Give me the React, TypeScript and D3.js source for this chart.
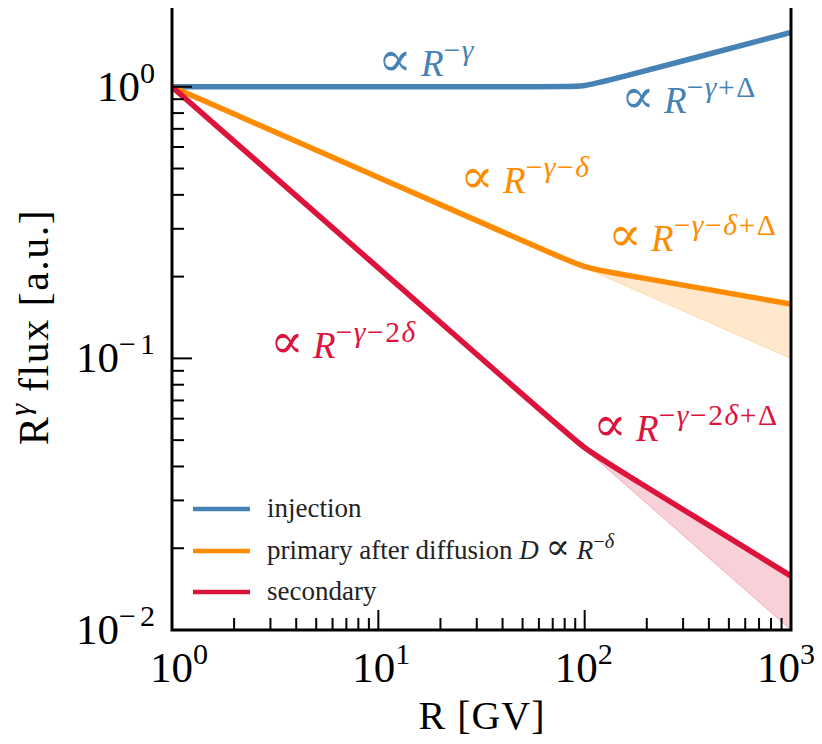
import React from "react";
import * as d3 from "d3";

// Rigidity control nodes (GV) on the broken power laws; the spline rounds the break at 100 GV
const rigidity = [1, 72, 100, 140, 1000];
const injection = [1, 1, 1, 1.0696, 1.585];
const primary = [1, 0.2402, 0.2154, 0.206, 0.1585];
const secondary = [1, 0.0577, 0.0464, 0.03965, 0.0158];

// Uncertainty bands above the break: hardened slope (upper) vs. unbroken slope (lower)
const bandRigidity = [100, 1000];
const primaryHard = [0.2154, 0.1585];
const primarySteep = [0.2154, 0.1];
const secondaryHard = [0.0464, 0.0158];
const secondarySteep = [0.0464, 0.01];

const xMajorTicks = [1, 10, 100, 1000];
const xTickExp = ["0", "1", "2", "3"];
const yMajorTicks = [0.01, 0.1, 1];
const yTickExp = ["−2", "−1", "0"];

const COLORS = {
  injection: "#4682b4",
  primary: "#ff8c00",
  secondary: "#dc143c",
};

type Seg = { t: string; it?: boolean; sup?: boolean; sym?: boolean };

const FONT = "'Liberation Serif', 'DejaVu Serif', serif";
const SYMFONT = "'DejaVu Serif', serif";

function MathText({
  x,
  y,
  segs,
  size,
  color,
  anchor = "start",
  supRatio = 0.72,
  supSpacing = 0,
  letterSpacing = 0,
}: {
  x: number;
  y: number;
  segs: Seg[];
  size: number;
  color: string;
  anchor?: string;
  supRatio?: number;
  supSpacing?: number;
  letterSpacing?: number;
}) {
  const supSize = size * supRatio;
  const rise = size * 0.42;
  let inSup = false;
  const spans = segs.map((s, i) => {
    let dy = 0;
    if (s.sup && !inSup) dy = -rise;
    if (!s.sup && inSup) dy = rise;
    inSup = !!s.sup;
    return (
      <tspan
        key={i}
        dy={dy}
        fontSize={s.sup ? supSize : s.sym ? size * 1.35 : size}
        fontFamily={s.sym ? SYMFONT : undefined}
        fontStyle={s.it ? "italic" : "normal"}
        letterSpacing={s.sup ? supSpacing : letterSpacing}
      >
        {s.t}
      </tspan>
    );
  });
  return (
    <text x={x} y={y} fill={color} fontFamily={FONT} textAnchor={anchor}>
      {spans}
    </text>
  );
}

const prop: Seg[] = [{ t: "∝", sym: true }, { t: " " }, { t: "R", it: true }];

export default function App() {
  const W = 822;
  const H = 744;
  const left = 172;
  const right = 791;
  const top = 5;
  const bottom = 630;

  const x = d3.scaleLog().domain([1, 1000]).range([left, right]);
  const y = d3.scaleLog().domain([0.01, 2]).range([bottom, top]);
  // tick labels sit slightly inside the frame edges so the outer ones stay on the page
  const xLabel = d3.scaleLog().domain([1, 1000]).range([left + 7, right - 5]);

  const curve = d3
    .line<[number, number]>()
    .x((d) => x(d[0]))
    .y((d) => y(d[1]))
    .curve(d3.curveBasis);
  const poly = d3
    .line<[number, number]>()
    .x((d) => x(d[0]))
    .y((d) => y(d[1]));

  const pts = (vals: number[]) =>
    rigidity.map((r, i) => [r, vals[i]] as [number, number]);

  const band = (upperVals: number[], lowerVals: number[]) => {
    const upper = bandRigidity.map((r, i) => [r, upperVals[i]] as [number, number]);
    const lower = bandRigidity
      .map((r, i) => [r, lowerVals[i]] as [number, number])
      .reverse();
    return poly([...upper, ...lower]) + "Z";
  };

  const minorX: number[] = [];
  for (let dec = 1; dec < 1000; dec *= 10)
    for (let k = 2; k <= 9; k++) minorX.push(dec * k);
  const minorY: number[] = [];
  for (let dec = 0.01; dec < 1; dec *= 10)
    for (let k = 2; k <= 9; k++) minorY.push(dec * k);
  minorY.push(2);

  const majorLen = 20;
  const minorLen = 12;

  const annSize = 37;
  const annSup = 0.8;
  const annSpacing = 1.5;
  const legendSize = 27;

  const legendItems = [
    { color: COLORS.injection, segs: [{ t: "injection" }] as Seg[] },
    {
      color: COLORS.primary,
      segs: [
        { t: "primary after diffusion " },
        { t: "D", it: true },
        { t: " " },
        { t: "∝", sym: true },
        { t: " " },
        { t: "R", it: true },
        { t: "−", sup: true },
        { t: "δ", sup: true, it: true },
      ] as Seg[],
    },
    { color: COLORS.secondary, segs: [{ t: "secondary" }] as Seg[] },
  ];
  const legendY = [509, 551, 592];

  const annotations = [
    {
      x: 378, y: 76, color: COLORS.injection,
      sup: [{ t: "−" }, { t: "γ", it: true }],
    },
    {
      x: 621, y: 113, color: COLORS.injection,
      sup: [{ t: "−" }, { t: "γ", it: true }, { t: "+Δ" }],
    },
    {
      x: 460, y: 193, color: COLORS.primary,
      sup: [{ t: "−" }, { t: "γ", it: true }, { t: "−" }, { t: "δ", it: true }],
    },
    {
      x: 608, y: 251, color: COLORS.primary,
      sup: [{ t: "−" }, { t: "γ", it: true }, { t: "−" }, { t: "δ", it: true }, { t: "+Δ" }],
    },
    {
      x: 270, y: 358, color: COLORS.secondary,
      sup: [{ t: "−" }, { t: "γ", it: true }, { t: "−2" }, { t: "δ", it: true }],
    },
    {
      x: 593, y: 441, color: COLORS.secondary,
      sup: [{ t: "−" }, { t: "γ", it: true }, { t: "−2" }, { t: "δ", it: true }, { t: "+Δ" }],
    },
  ];

  return (
    <svg width={W} height={H} style={{ display: "block", margin: "-8px" }}>
      <rect width={W} height={H} fill="#fff" />
      <defs>
        <clipPath id="plot">
          <rect x={left} y={top} width={right - left} height={bottom - top} />
        </clipPath>
      </defs>

      <g clipPath="url(#plot)">
        <path
          d={band(primaryHard, primarySteep)}
          fill={COLORS.primary}
          fillOpacity={0.2}
          stroke={COLORS.primary}
          strokeOpacity={0.25}
          strokeWidth={1}
        />
        <path
          d={band(secondaryHard, secondarySteep)}
          fill={COLORS.secondary}
          fillOpacity={0.2}
          stroke={COLORS.secondary}
          strokeOpacity={0.25}
          strokeWidth={1}
        />
        <path d={curve(pts(injection)) || ""} fill="none" stroke={COLORS.injection} strokeWidth={5.5} />
        <path d={curve(pts(primary)) || ""} fill="none" stroke={COLORS.primary} strokeWidth={5.5} />
        <path d={curve(pts(secondary)) || ""} fill="none" stroke={COLORS.secondary} strokeWidth={5.5} />
      </g>

      {/* ticks */}
      <g stroke="#000" strokeWidth={2}>
        {xMajorTicks.map((t) => (
          <line key={"xM" + t} x1={x(t)} x2={x(t)} y1={bottom} y2={bottom - majorLen} />
        ))}
        {minorX.map((t) => (
          <line key={"xm" + t} x1={x(t)} x2={x(t)} y1={bottom} y2={bottom - minorLen} />
        ))}
        {yMajorTicks.map((t) => (
          <line key={"yM" + t} x1={left} x2={left + majorLen} y1={y(t)} y2={y(t)} />
        ))}
        {minorY.map((t) => (
          <line key={"ym" + t} x1={left} x2={left + minorLen} y1={y(t)} y2={y(t)} />
        ))}
      </g>

      <rect
        x={left}
        y={top}
        width={right - left}
        height={bottom - top}
        fill="none"
        stroke="#000"
        strokeWidth={3}
      />

      {/* tick labels */}
      {xMajorTicks.map((t, i) => (
        <MathText
          key={"xl" + t}
          x={xLabel(t)}
          y={682}
          size={43}
          color="#000"
          anchor="middle"
          supRatio={0.7}
          segs={[{ t: "10" }, { t: xTickExp[i], sup: true }]}
        />
      ))}
      {yMajorTicks.map((t, i) => (
        <MathText
          key={"yl" + t}
          x={159}
          y={y(t) + 14}
          size={43}
          color="#000"
          anchor="end"
          supRatio={0.7}
          supSpacing={4}
          segs={[{ t: "10" }, { t: yTickExp[i], sup: true }]}
        />
      ))}

      {/* axis titles */}
      <text x={482} y={729} fontFamily={FONT} fontSize={40} textAnchor="middle" letterSpacing={1}>
        R [GV]
      </text>
      <g transform="translate(48,327) rotate(-90)">
        <MathText
          x={0}
          y={0}
          size={42}
          color="#000"
          anchor="middle"
          letterSpacing={1.5}
          segs={[{ t: "R" }, { t: "γ", sup: true, it: true }, { t: " flux [a.u.]" }]}
        />
      </g>

      {/* slope annotations */}
      {annotations.map((a, i) => (
        <MathText
          key={"an" + i}
          x={a.x}
          y={a.y}
          size={annSize}
          supRatio={annSup}
          supSpacing={annSpacing}
          color={a.color}
          segs={[...prop, ...a.sup.map((s) => ({ ...s, sup: true }))]}
        />
      ))}

      {/* legend */}
      {legendItems.map((item, i) => (
        <g key={"lg" + i}>
          <line
            x1={193}
            x2={250}
            y1={legendY[i]}
            y2={legendY[i]}
            stroke={item.color}
            strokeWidth={4.5}
          />
          <MathText
            x={267}
            y={legendY[i] + 8}
            size={legendSize}
            color="#222"
            supRatio={0.75}
            segs={item.segs}
          />
        </g>
      ))}
    </svg>
  );
}
